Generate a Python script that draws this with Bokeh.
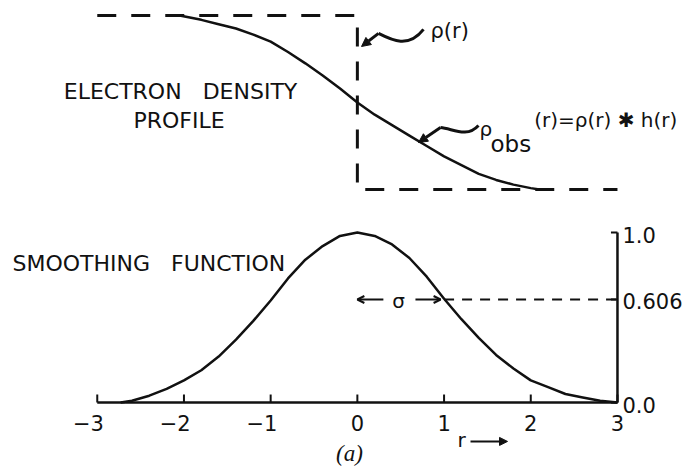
from bokeh.plotting import figure
from bokeh.models import Range1d, Label, Arrow, NormalHead, OpenHead
from bokeh.core.properties import value
from bokeh.embed import file_html
from bokeh.resources import INLINE

# ---- data -----------------------------------------------------------------
# r axis ticks
r_ticks = [-3, -2, -1, 0, 1, 2, 3]
r_tick_labels = ["\u22123", "\u22122", "\u22121", "0", "1", "2", "3"]

# sharp electron density step rho(r)
step_r = [-3, 0, 0, 3]
step_rho = [1, 1, 0, 0]

# observed (smoothed) profile rho_obs(r) = rho(r) * h(r)
obs_r = [-2.05, -1.8, -1.6, -1.4, -1.2, -1.0, -0.8, -0.6, -0.4, -0.2, 0.0,
         0.2, 0.4, 0.6, 0.8, 1.0, 1.2, 1.4, 1.6, 1.8, 2.0, 2.1]
obs_rho = [1.0, 0.975, 0.95, 0.925, 0.89, 0.85, 0.79, 0.725, 0.655, 0.58, 0.50,
           0.43, 0.37, 0.31, 0.25, 0.19, 0.14, 0.09, 0.055, 0.028, 0.008, 0.0]

# smoothing function h(r)
h_r = [-2.73, -2.6, -2.4, -2.2, -2.0, -1.8, -1.6, -1.4, -1.2, -1.0, -0.8, -0.6,
       -0.4, -0.2, 0.0, 0.2, 0.4, 0.6, 0.8, 1.0, 1.2, 1.4, 1.6, 1.8, 2.0, 2.2,
       2.4, 2.6, 2.8, 3.0]
h_val = [0.0, 0.01, 0.04, 0.08, 0.13, 0.19, 0.27, 0.37, 0.48, 0.60, 0.73, 0.84,
         0.92, 0.98, 1.0, 0.98, 0.93, 0.85, 0.74, 0.61, 0.49, 0.38, 0.28, 0.20,
         0.13, 0.09, 0.05, 0.03, 0.01, 0.0]

# right-hand scale of h(r)
h_ticks = [0.0, 0.606, 1.0]
h_tick_labels = ["0.0", "0.606", "1.0"]

# half width sigma at the 0.606 level
sigma = 1.0
sigma_level = 0.606

# ---- figure ---------------------------------------------------------------
SANS = "DejaVu Sans"
INK = "#111111"

p = figure(width=695, height=468,
           x_range=Range1d(-4.116, 3.900), y_range=Range1d(-0.3882, 2.3647),
           x_axis_type=None, y_axis_type=None,
           output_backend="svg", toolbar_location=None,
           min_border=0, min_border_left=0, min_border_right=0,
           min_border_top=0, min_border_bottom=0,
           outline_line_color=None, background_fill_color="white",
           border_fill_color="white")
p.extra_y_ranges = {"rho": Range1d(-1.6034, 1.0862)}


def label(x, y, text, size, align="left", font=SANS, style="normal",
          y_range_name="default"):
    p.add_layout(Label(x=x, y=y, text=text, text_align=align,
                       text_baseline="alphabetic", text_font=font,
                       text_font_style=style, text_font_size=size,
                       text_color=INK, y_range_name=y_range_name))


# ---- r axis (drawn in data space at h = 0) --------------------------------
r_tick_len = 0.047     # tick length in h units, pointing up
p.line([r_ticks[0], r_ticks[-1]], [0, 0], line_width=2.5, line_color=INK)
p.segment(x0=r_ticks, y0=0, x1=r_ticks, y1=r_tick_len,
          line_width=2, line_color=INK)
# digit centred under the tick, minus sign hanging to the left
p.text(x=r_ticks, y=-0.118, text=r_tick_labels, text_align="right",
       text_baseline="alphabetic", x_offset=6.7,
       text_font=value(SANS), text_font_size=value("21px"), text_color=INK)

# ---- h scale on the right (at r = 3) -------------------------------------
h_tick_len = 0.075     # tick length in r units, pointing left
r_edge = r_ticks[-1]
p.line([r_edge, r_edge], [h_ticks[0], h_ticks[-1]], line_width=2.5,
       line_color=INK)
p.segment(x0=r_edge - h_tick_len, y0=h_ticks, x1=r_edge, y1=h_ticks,
          line_width=2, line_color=INK)
p.text(x=r_edge, y=h_ticks, text=h_tick_labels, text_align="left",
       text_baseline="alphabetic", x_offset=5, y_offset=2,
       text_font=value(SANS), text_font_size=value("21px"), text_color=INK)

# ---- upper panel: electron density profile ------------------------------
p.line(step_r, step_rho, y_range_name="rho", line_dash="19 15",
       line_width=3, line_color=INK)
p.line(obs_r, obs_rho, y_range_name="rho", line_width=2.5, line_color=INK)

label(-2.04, 0.563, "ELECTRON\u00a0\u00a0\u00a0DENSITY", "22px",
      align="center", y_range_name="rho")
label(-2.057, 0.397, "PROFILE", "22px", align="center", y_range_name="rho")

# pointer to rho(r)
p.bezier(x0=0.763, y0=0.920, cx0=0.590, cy0=0.810, cx1=0.405, cy1=0.856,
         x1=0.244, y1=0.897, y_range_name="rho", line_width=3, line_color=INK)
p.add_layout(Arrow(x_start=0.244, y_start=0.897, x_end=0.048, y_end=0.822,
                   y_range_name="rho", line_width=3, line_color=INK,
                   end=NormalHead(size=9, fill_color=INK, line_color=INK)))
label(0.844, 0.911, "\u03c1(r)", "21px", y_range_name="rho")

# pointer to rho_obs(r)
p.bezier(x0=1.397, y0=0.368, cx0=1.259, cy0=0.293, cx1=1.097, cy1=0.351,
         x1=0.959, y1=0.356, y_range_name="rho", line_width=3, line_color=INK)
p.add_layout(Arrow(x_start=0.959, y_start=0.356, x_end=0.705, y_end=0.270,
                   y_range_name="rho", line_width=3, line_color=INK,
                   end=NormalHead(size=9, fill_color=INK, line_color=INK)))
label(1.409, 0.350, "\u03c1", "20px", y_range_name="rho")
label(1.536, 0.262, "obs", "23px", y_range_name="rho")
label(2.040, 0.400, "(r)=\u03c1(r) \u2731 h(r)", "20px", y_range_name="rho")

# ---- lower panel: smoothing function ------------------------------------
p.line(h_r, h_val, line_width=2.5, line_color=INK)
p.line([sigma, r_edge], [sigma_level, sigma_level], line_dash="10 8",
       line_width=2, line_color=INK)

p.add_layout(Arrow(x_start=0.30, y_start=sigma_level, x_end=0.0,
                   y_end=sigma_level, line_width=2, line_color=INK,
                   end=OpenHead(size=7, line_width=2, line_color=INK)))
p.add_layout(Arrow(x_start=0.67, y_start=sigma_level, x_end=0.96 * sigma,
                   y_end=sigma_level, line_width=2, line_color=INK,
                   end=OpenHead(size=7, line_width=2, line_color=INK)))
label(0.475, 0.60, "\u03c3", "20px", align="center")

label(-3.978, 0.818, "SMOOTHING\u00a0\u00a0\u00a0FUNCTION", "22px")

# axis name and panel tag below the r axis
label(1.201, -0.218, "r", "20px", align="center")
p.add_layout(Arrow(x_start=1.305, y_start=-0.229, x_end=1.732, y_end=-0.229,
                   line_width=2, line_color=INK,
                   end=NormalHead(size=8, fill_color=INK, line_color=INK)))
label(-0.091, -0.300, "(a)", "23px", align="center",
      font="Liberation Serif", style="italic")

open("out.html", "w").write(file_html(p, INLINE))
